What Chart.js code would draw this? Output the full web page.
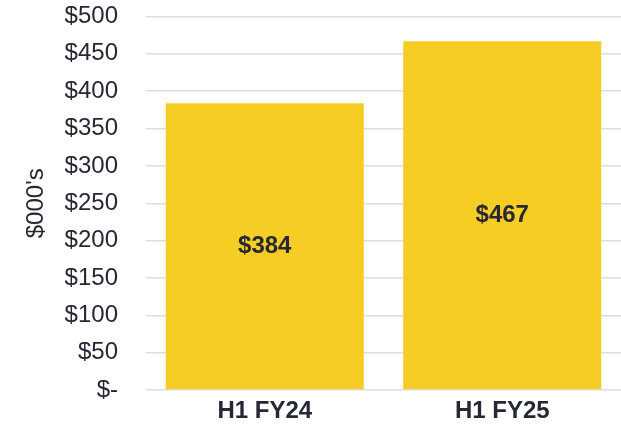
<!DOCTYPE html>
<html>
<head>
<meta charset="utf-8">
<script src="https://cdn.jsdelivr.net/npm/chart.js@4"></script>
<style>
    html, body { margin: 0; padding: 0; background: #fff; }
    #wrap { width: 621px; height: 425px; }
</style>
</head>
<body>
<div id="wrap"><canvas id="halfChart"></canvas></div>
<script>
// data
const periods = ["H1 FY24", "H1 FY25"]
const revenue = [384, 467]
const yTicks = [0, 50, 100, 150, 200, 250, 300, 350, 400, 450, 500]

const textColor = "#262833"
const barColor = "#F6CD24"
const gridColor = "#d9dde7"
const fontFamily = "'Liberation Sans', Arial, sans-serif"

// value labels in the middle of each bar
const barLabels = {
    id: "barLabels",
    afterDatasetsDraw(chart) {
        const ctx = chart.ctx
        const meta = chart.getDatasetMeta(0)
        ctx.save()
        ctx.font = "bold 24px " + fontFamily
        ctx.fillStyle = textColor
        ctx.textAlign = "center"
        ctx.textBaseline = "middle"
        meta.data.forEach((bar, i) => {
            const y = (bar.y + bar.base) / 2
            ctx.fillText("$" + revenue[i], bar.x, y)
        })
        ctx.restore()
    },
}

const ctx = document.getElementById("halfChart")
new Chart(ctx, {
    type: "bar",
    data: {
        labels: periods,
        datasets: [
            {
                label: "Revenue",
                data: revenue,
                backgroundColor: barColor,
                categoryPercentage: 1,
                barPercentage: 0.834,
            },
        ],
    },
    options: {
        responsive: true,
        maintainAspectRatio: false,
        animation: false,
        layout: { padding: { top: 16.5, right: 0, bottom: 0, left: 0 } },
        plugins: {
            legend: { display: false },
            tooltip: { enabled: false },
        },
        scales: {
            x: {
                afterFit: (scale) => {
                    scale.height = 35
                },
                grid: { display: false, drawTicks: false },
                border: { display: false },
                ticks: {
                    color: textColor,
                    padding: 7,
                    font: { family: fontFamily, size: 24, weight: "bold" },
                },
            },
            y: {
                min: 0,
                max: 500,
                afterBuildTicks: (scale) => {
                    scale.ticks = yTicks.map((v) => ({ value: v }))
                },
                afterFit: (scale) => {
                    scale.width = 146
                    scale.paddingTop = 0
                    scale.paddingBottom = 0
                },
                grid: { color: gridColor, lineWidth: 1.5, drawTicks: false },
                border: { display: false },
                ticks: {
                    color: textColor,
                    padding: 28,
                    font: { family: fontFamily, size: 24 },
                    callback: (v) => (v === 0 ? "$-" : "$" + v),
                },
                title: {
                    display: true,
                    text: "$000's",
                    color: textColor,
                    padding: { top: 22, bottom: 0 },
                    font: { family: fontFamily, size: 24 },
                },
            },
        },
    },
    plugins: [barLabels],
})
</script>
</body>
</html>
